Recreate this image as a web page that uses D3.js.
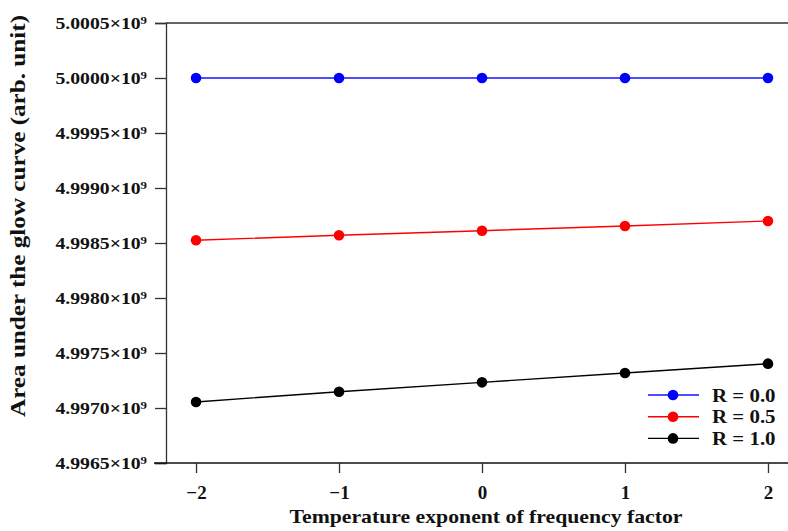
<!DOCTYPE html>
<html><head><meta charset="utf-8">
<script src="https://cdn.jsdelivr.net/npm/d3@7"></script>
<style>body{margin:0;background:#fff}svg{display:block}text{font-family:"Liberation Serif","Times New Roman",serif;font-weight:bold}</style>
</head><body><svg id="c" width="788" height="531"></svg>
<script>
const xValues = [-2, -1, 0, 1, 2];
const xTickLabels = ["\u22122", "\u22121", "0", "1", "2"];
const yTicks = [4.9965e9, 4.9970e9, 4.9975e9, 4.9980e9, 4.9985e9, 4.9990e9, 4.9995e9, 5.0000e9, 5.0005e9];
const yTickLabels = ["4.9965", "4.9970", "4.9975", "4.9980", "4.9985", "4.9990", "4.9995", "5.0000", "5.0005"];
const seriesNames = ["R = 0.0", "R = 0.5", "R = 1.0"];
const seriesColors = ["#0000ff", "#ff0000", "#000000"];
const lineColors = ["#4d4dff", "#ff0000", "#000000"];
const r00 = [5.0000e9, 5.0000e9, 5.0000e9, 5.0000e9, 5.0000e9];
const r05 = [4.998525e9, 4.998570e9, 4.998612e9, 4.998655e9, 4.998700e9];
const r10 = [4.997055e9, 4.997148e9, 4.997233e9, 4.997318e9, 4.997403e9];
const series = [r00, r05, r10];

const svg = d3.select("#c");
const L = 166, R = 788, T = 23, B = 463;
const x = d3.scaleLinear().domain([-2.21, 2.14]).range([L, R]);
const y = d3.scaleLinear().domain([4.9965e9, 5.0005e9]).range([B, T]);

svg.append("line").attr("x1", L).attr("x2", R).attr("y1", T).attr("y2", T).attr("stroke", "#333").attr("stroke-width", 1.3);

const ya = svg.append("g").attr("transform", `translate(${L},0)`)
  .call(d3.axisLeft(y).tickValues(yTicks).tickSize(11).tickFormat(() => ""));
ya.select(".domain").attr("stroke", "#333").attr("stroke-width", 1.3);
ya.selectAll(".tick line").attr("stroke", "#333").attr("stroke-width", 1.3);
ya.selectAll(".tick").each(function(d, i) {
  const t = d3.select(this).append("text").attr("transform", "translate(-19,0) scale(1.16,1)")
    .attr("dy", "0.35em").attr("text-anchor", "end").attr("fill", "#111").style("font-size", "17px");
  t.append("tspan").text(yTickLabels[i] + "\u00d710");
  t.append("tspan").attr("dy", "-0.5em").style("font-size", "11px").text("9");
});

const xa = svg.append("g").attr("transform", `translate(0,${B})`)
  .call(d3.axisBottom(x).tickValues(xValues).tickSize(10).tickFormat((d, i) => xTickLabels[i]));
xa.select(".domain").attr("stroke", "#111").attr("stroke-width", 1.3).attr("d", `M${L - 12},0H${R}`);
xa.selectAll(".tick line").attr("stroke", "#333").attr("stroke-width", 1.3);
xa.selectAll(".tick text").attr("y", 36).attr("dy", 0).attr("fill", "#111").style("font-size", "19px")
  .attr("transform", function() { return "scale(1.1,1)"; })
  .attr("x", 0);
xa.selectAll(".tick text").attr("transform", null).attr("textLength", null);

svg.append("text").attr("x", 486).attr("y", 523).attr("text-anchor", "middle").attr("fill", "#111")
  .style("font-size", "19px").attr("textLength", 393).attr("lengthAdjust", "spacingAndGlyphs")
  .text("Temperature exponent of frequency factor");
svg.append("text").attr("transform", "translate(25,216) rotate(-90)").attr("text-anchor", "middle").attr("fill", "#111")
  .style("font-size", "20px").attr("textLength", 402).attr("lengthAdjust", "spacingAndGlyphs")
  .text("Area under the glow curve (arb. unit)");

const line = d3.line().x((d, i) => x(xValues[i])).y(d => y(d));
series.forEach((s, k) => {
  svg.append("path").datum(s).attr("d", line).attr("fill", "none")
    .attr("stroke", lineColors[k]).attr("stroke-width", k === 0 ? 1.8 : 1.4);
  svg.selectAll(null).data(s).enter().append("circle")
    .attr("cx", (d, i) => x(xValues[i])).attr("cy", d => y(d)).attr("r", 5.3).attr("fill", seriesColors[k]);
});

const lg = svg.append("g");
seriesNames.forEach((n, k) => {
  const yy = 395 + k * 21.7;
  lg.append("line").attr("x1", 648).attr("x2", 699).attr("y1", yy).attr("y2", yy)
    .attr("stroke", lineColors[k]).attr("stroke-width", k === 0 ? 1.8 : 1.4);
  lg.append("circle").attr("cx", 673).attr("cy", yy).attr("r", 5.3).attr("fill", seriesColors[k]);
  lg.append("text").attr("transform", `translate(712,${yy}) scale(1.1,1)`).attr("dy", "0.35em").attr("fill", "#111")
    .style("font-size", "19px").text(n);
});
</script></body></html>
